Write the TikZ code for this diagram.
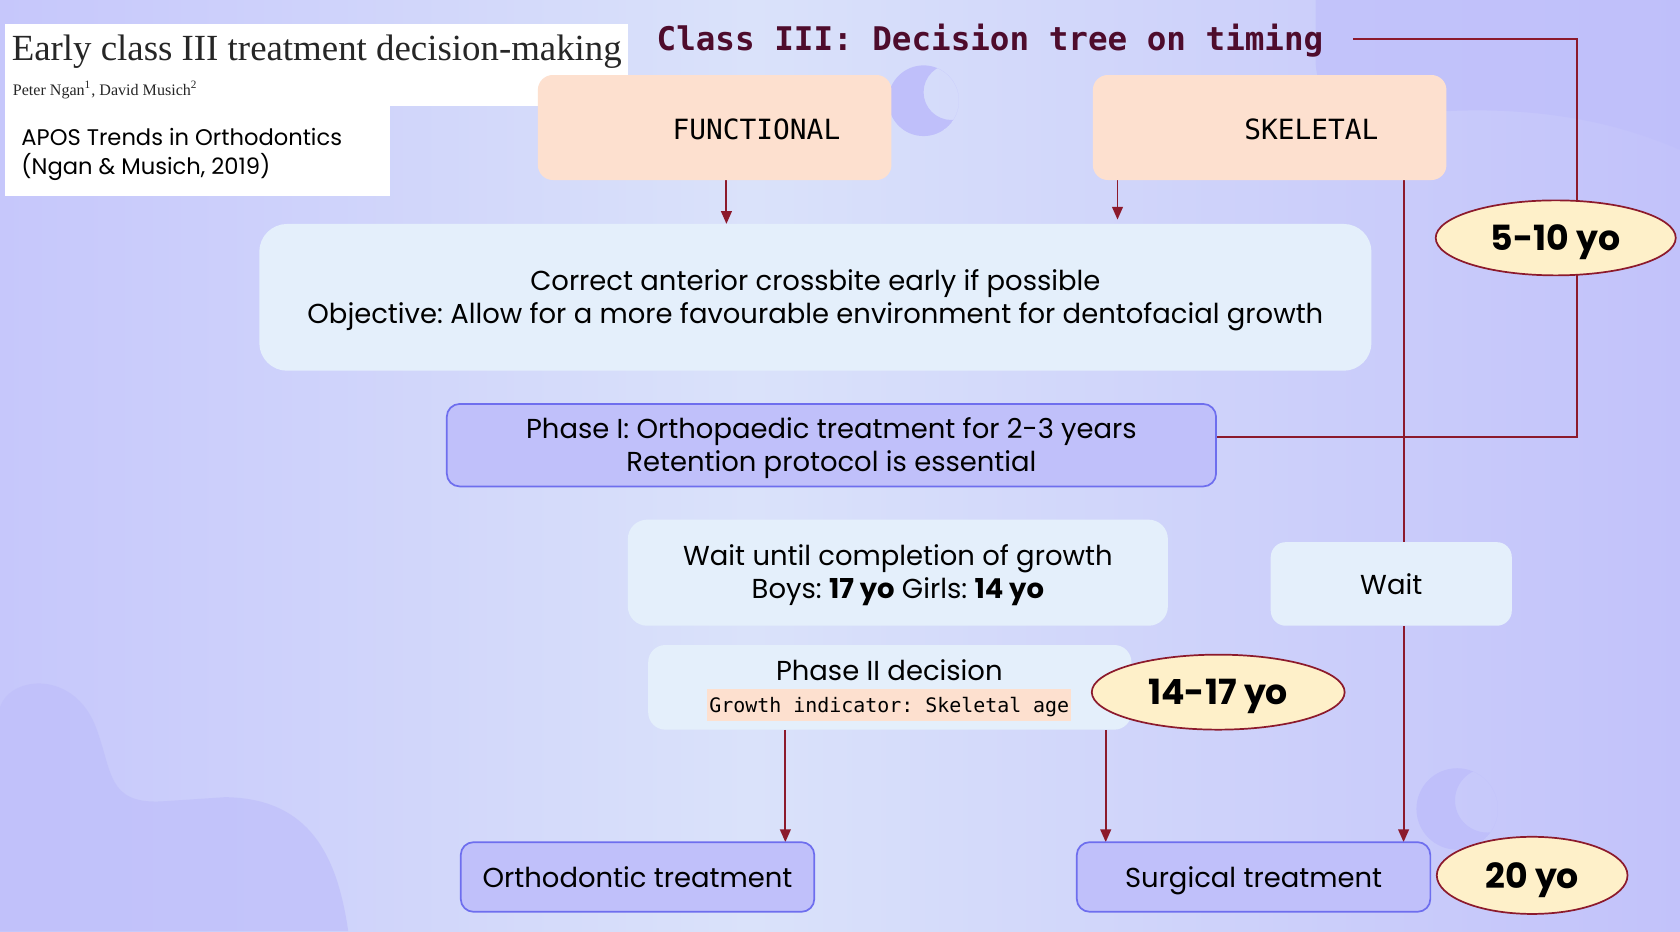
\documentclass[tikz,border=0pt]{standalone}
\usepackage{fontspec}
\setmainfont{Poppins}
\newfontfamily\handfont{DejaVu Sans Mono}
\newfontfamily\paperfont{Liberation Serif}
\usetikzlibrary{arrows.meta,shapes.geometric,calc}
\definecolor{bgA}{HTML}{C6C7FB}
\definecolor{bgB}{HTML}{DAE2FA}
\definecolor{bgC}{HTML}{C2C2FA}
\definecolor{blob}{HTML}{BFBFFA}
\definecolor{peach}{HTML}{FDE0CF}
\definecolor{pale}{HTML}{E4EFFB}
\definecolor{lav}{HTML}{C0C0FA}
\definecolor{lavline}{HTML}{6E6EEE}
\definecolor{cream}{HTML}{FEF0C9}
\definecolor{wine}{HTML}{8C1A2C}
\definecolor{titlec}{HTML}{4E0C2C}
\pgfdeclarelayer{bg}
\pgfdeclarelayer{lines}
\pgfsetlayers{bg,lines,main}
\frenchspacing
\begin{document}
\begin{tikzpicture}[x=0.5pt,y=-0.5pt,
  every node/.style={inner sep=0pt,outer sep=0pt},
  whitebox/.style={fill=white},
  peachbox/.style={fill=peach,rounded corners=7pt,minimum width=165pt,minimum height=49pt},
  palebox/.style={fill=pale,rounded corners=12pt},
  lavbox/.style={fill=lav,draw=lavline,line width=0.8pt,rounded corners=6pt},
  agebubble/.style={ellipse,fill=cream,draw=wine,line width=0.8pt,text depth=0pt,font=\fontsize{16.2}{19}\selectfont\bfseries},
  body/.style={font=\fontsize{12.8}{15.5}\selectfont,align=center,text=black},
  oneline/.style={text height=9.4pt,text depth=0pt},
  hand/.style={font=\handfont\fontsize{13}{15}\selectfont},
  conn/.style={draw=wine,line width=0.9pt},
  arr/.style={conn,-{Triangle[length=6pt,width=5pt]}},
]
\useasboundingbox (0,0) rectangle (1568,869);
\begin{pgfonlayer}{bg}
  \shade[left color=bgA,right color=bgB] (0,0) rectangle (700,869);
  \shade[left color=bgB,right color=bgC] (700,0) rectangle (1568,869);
  % top-right blob
  \fill[blob,opacity=0.7] (1228,0) -- (1228,60) .. controls (1230,100) and (1270,110) .. (1330,105)
     .. controls (1420,98) and (1500,110) .. (1568,140) -- (1568,0) -- cycle;
  % bottom-left blob
  \fill[blob,opacity=0.7] (0,660) .. controls (10,630) and (70,625) .. (90,680)
     .. controls (105,720) and (100,750) .. (150,748) -- (210,744)
     .. controls (290,745) and (315,800) .. (325,869) -- (0,869) -- cycle;
  % crescents
  \begin{scope}
    \clip (862,94) circle (33);
    \fill[blob,even odd rule] (862,94) circle (33) (888,86) circle (26);
  \end{scope}
  \begin{scope}
    \clip (1360,755) circle (38);
    \fill[blob,even odd rule] (1360,755) circle (38) (1388,747) circle (30);
  \end{scope}
\end{pgfonlayer}

% header
\node[whitebox,minimum width=290.5pt,minimum height=38.5pt] (hdr1) at (295.5,60.5) {};
\node[whitebox,minimum width=179.5pt,minimum height=42pt] (hdr2) at (184.5,141) {};
\node[anchor=base west,font=\paperfont\fontsize{17.2}{20}\selectfont,text=black!85] (papertitle) at (11,56) {Early class III treatment decision-making};
\node[anchor=base west,font=\paperfont\fontsize{7.5}{9}\selectfont,text=black!85] (authors) at (12,89) {Peter Ngan\textsuperscript{1}, David Musich\textsuperscript{2}};
\node[anchor=base west,font=\fontsize{10.55}{13.5}\selectfont,align=left] (journal) at (20,136) {APOS Trends in Orthodontics};
\node[anchor=base west,font=\fontsize{10.55}{13.5}\selectfont,align=left] (cite) at (20,163) {(Ngan \& Musich, 2019)};

% title
\node[font=\handfont\bfseries\fontsize{15.2}{18}\selectfont,text=titlec] (title) at (924,38) {Class III: Decision tree on timing};

% top boxes
\node[peachbox] (func) at (667,119) {};
\node[hand] (functxt) at (706,121) {FUNCTIONAL};
\node[peachbox] (skel) at (1185,119) {};
\node[hand] (skeltxt) at (1224,121) {SKELETAL};

\node[palebox,minimum width=519pt,minimum height=68.5pt,rounded corners=13pt] (cross) at (761,277.5) {};
\node[body] (crosstxt) at (761,280) {Correct anterior crossbite early if possible\\Objective: Allow for a more favourable environment for dentofacial growth};

\node[lavbox,minimum width=359pt,minimum height=38.5pt] (phase1) at (776,415.5) {};
\node[body] (phase1txt) at (776,418) {Phase I: Orthopaedic treatment for 2-3 years\\Retention protocol is essential};

\node[palebox,minimum width=252pt,minimum height=49.5pt,rounded corners=9pt] (waitg) at (838,534.5) {};
\node[body] (waitgtxt) at (838,537) {Wait until completion of growth\\Boys: \textbf{17 yo} Girls: \textbf{14 yo}};

\node[palebox,minimum width=112.5pt,minimum height=39pt,rounded corners=7pt,body,oneline] (wait) at (1298.5,545) {Wait};

\node[palebox,minimum width=225.5pt,minimum height=39.5pt,rounded corners=8pt] (phase2) at (830.5,641.5) {};
\node[body,oneline] (phase2txt) at (830,626) {Phase II decision};
\node[fill=peach,minimum width=170pt,minimum height=15pt] (growth) at (830,658) {};
\node[hand,font=\handfont\fontsize{9.3}{11}\selectfont] (growthtxt) at (830,660) {Growth indicator: Skeletal age};

\node[lavbox,minimum width=165pt,minimum height=32.5pt,body,oneline] (ortho) at (595,818.5) {Orthodontic treatment};
\node[lavbox,minimum width=165pt,minimum height=32.5pt,body,oneline] (surg) at (1170,818.5) {Surgical treatment};

% connectors
\coordinate (fa) at (678,0);
\coordinate (sa) at (1043,0);
\coordinate (sl) at (1310,0);
\coordinate (pa) at (733,0);
\coordinate (pb) at (1032,0);
\coordinate (lp) at (1472,408);
\coordinate (lq) at (1472,36);
\coordinate (tend) at (1263,36);
\begin{pgfonlayer}{lines}
  \draw[arr] (func.south -| fa) -- (cross.north -| fa);
  \draw[arr,shorten >=2pt] (skel.south -| sa) -- (cross.north -| sa);
  \draw[conn] (skel.south -| sl) -- (wait.north -| sl);
  \draw[arr] (wait.south -| sl) -- (surg.north -| sl);
  \draw[arr] (phase2.south -| pa) -- (ortho.north -| pa);
  \draw[arr] (phase2.south -| pb) -- (surg.north -| pb);
  \draw[conn] (phase1.east |- lp) -- (lp) -- (lq) -- (tend);
\end{pgfonlayer}

% age bubbles
\node[agebubble,minimum width=112pt,minimum height=35pt] (e510) at (1452,222) {5-10 yo};
\node[agebubble,minimum width=118pt,minimum height=35pt] (e1417) at (1137,646) {14-17 yo};
\node[agebubble,minimum width=89pt,minimum height=36pt] (e20) at (1430,817) {20 yo};
\end{tikzpicture}
\end{document}
